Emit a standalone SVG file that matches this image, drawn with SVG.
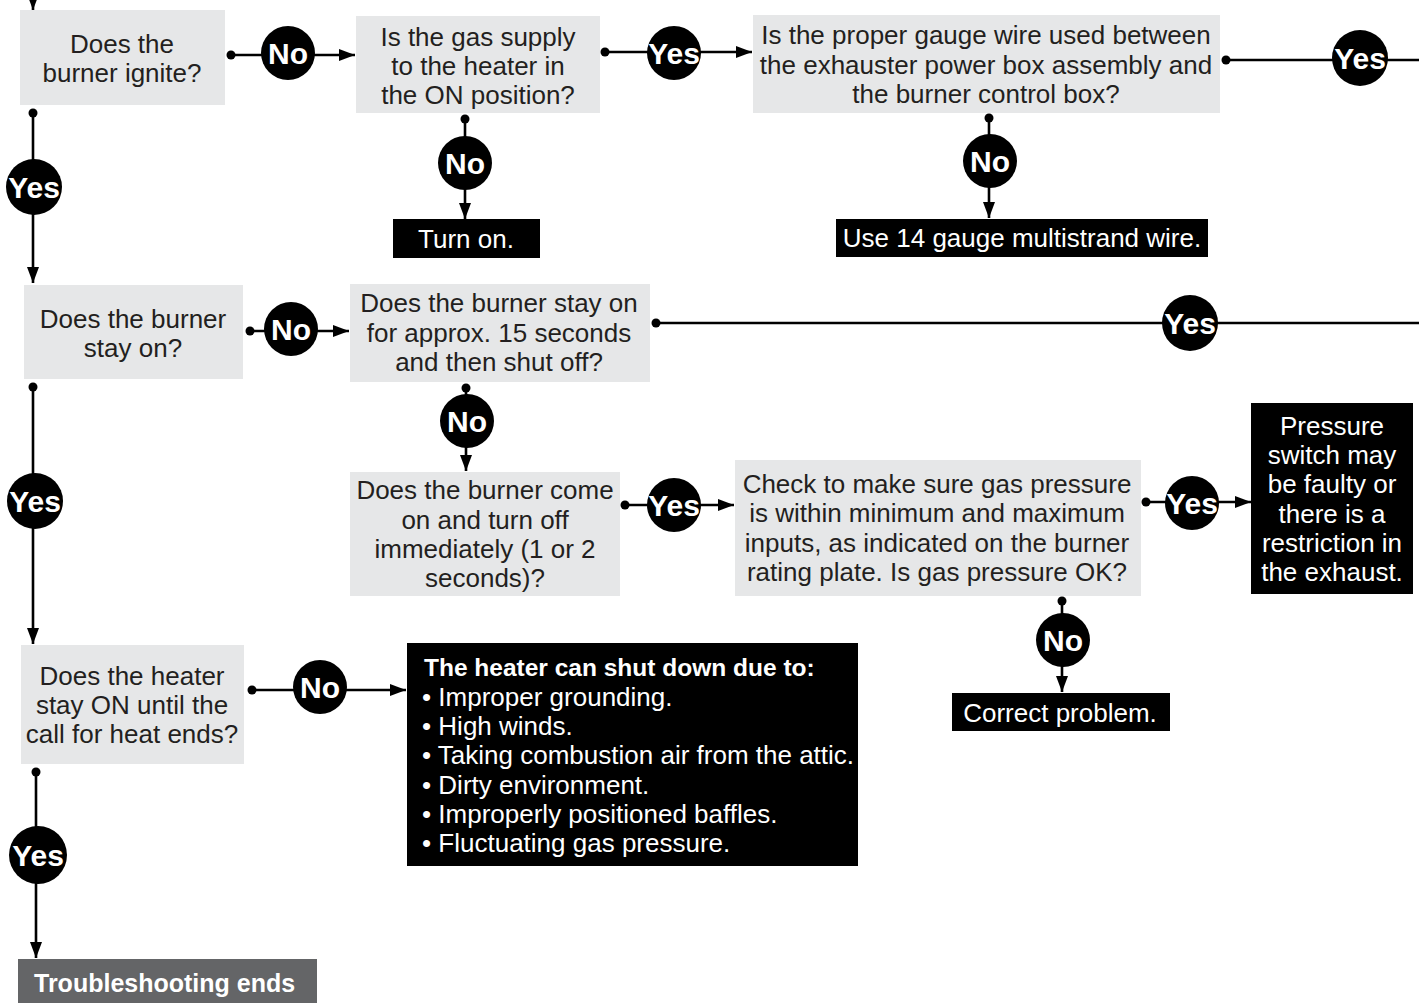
<svg xmlns="http://www.w3.org/2000/svg" width="1419" height="1003" viewBox="0 0 1419 1003">
<style>
.q{fill:#e6e7e8}
.k{fill:#000}
.t{font-family:"Liberation Sans",Arial,sans-serif;font-size:26px;fill:#231f20;text-anchor:middle}
.w{font-family:"Liberation Sans",Arial,sans-serif;font-size:26px;fill:#fff;text-anchor:middle}
.wl{font-family:"Liberation Sans",Arial,sans-serif;font-size:26px;fill:#fff}
.wb{font-family:"Liberation Sans",Arial,sans-serif;font-size:24.5px;font-weight:bold;fill:#fff}
.ln{stroke:#000;stroke-width:2.6;fill:none}
.ar{stroke:#000;stroke-width:2.6;fill:none;marker-end:url(#ah)}
.dot{fill:#000}
.c{fill:#000}
.cl{font-family:"Liberation Sans",Arial,sans-serif;font-size:30px;font-weight:bold;fill:#fff;text-anchor:middle}
</style>
<defs>
<marker id="ah" markerUnits="userSpaceOnUse" markerWidth="18" markerHeight="14" refX="16" refY="7" orient="auto">
<path d="M0,1 L16,7 L0,13 Z" fill="#000"/>
</marker>
</defs>
<rect width="1419" height="1003" fill="#fff"/>

<g id="connectors">
<line class="ar" x1="33" y1="-10" x2="33" y2="10"/>
<circle class="dot" cx="231" cy="55" r="4.5"/><line class="ar" x1="231" y1="55" x2="355" y2="55"/>
<circle class="dot" cx="605" cy="52" r="4.5"/><line class="ar" x1="605" y1="52" x2="752" y2="52"/>
<circle class="dot" cx="1226" cy="60" r="4.5"/><line class="ln" x1="1226" y1="60" x2="1419" y2="60"/>
<circle class="dot" cx="465" cy="119" r="4.5"/><line class="ar" x1="465" y1="119" x2="465" y2="219"/>
<circle class="dot" cx="989" cy="118" r="4.5"/><line class="ar" x1="989" y1="118" x2="989" y2="218"/>
<circle class="dot" cx="33" cy="113" r="4.5"/><line class="ar" x1="33" y1="113" x2="33" y2="283"/>
<circle class="dot" cx="250" cy="331" r="4.5"/><line class="ar" x1="250" y1="331" x2="349" y2="331"/>
<circle class="dot" cx="656" cy="323" r="4.5"/><line class="ln" x1="656" y1="323" x2="1419" y2="323"/>
<circle class="dot" cx="466" cy="388" r="4.5"/><line class="ar" x1="466" y1="388" x2="466" y2="471"/>
<circle class="dot" cx="625" cy="505" r="4.5"/><line class="ar" x1="625" y1="505" x2="734" y2="505"/>
<circle class="dot" cx="1146" cy="502" r="4.5"/><line class="ar" x1="1146" y1="502" x2="1251" y2="502"/>
<circle class="dot" cx="1062" cy="601" r="4.5"/><line class="ar" x1="1062" y1="601" x2="1062" y2="692"/>
<circle class="dot" cx="33" cy="387" r="4.5"/><line class="ar" x1="33" y1="387" x2="33" y2="644"/>
<circle class="dot" cx="252" cy="690" r="4.5"/><line class="ar" x1="252" y1="690" x2="406" y2="690"/>
<circle class="dot" cx="36" cy="772" r="4.5"/><line class="ar" x1="36" y1="772" x2="36" y2="958"/>

<g id="lbl-no1"><circle class="c" cx="288" cy="53" r="27"/><text class="cl" x="288" y="64">No</text></g>
<g id="lbl-yes1"><circle class="c" cx="674" cy="53" r="27"/><text class="cl" x="674" y="64">Yes</text></g>
<g id="lbl-yes2"><circle class="c" cx="1360" cy="58" r="28"/><text class="cl" x="1360" y="69">Yes</text></g>
<g id="lbl-no2"><circle class="c" cx="465" cy="163" r="27"/><text class="cl" x="465" y="174">No</text></g>
<g id="lbl-no3"><circle class="c" cx="990" cy="161" r="27"/><text class="cl" x="990" y="172">No</text></g>
<g id="lbl-yes3"><circle class="c" cx="34" cy="187" r="28"/><text class="cl" x="34" y="198">Yes</text></g>
<g id="lbl-no4"><circle class="c" cx="291" cy="329" r="27"/><text class="cl" x="291" y="340">No</text></g>
<g id="lbl-yes4"><circle class="c" cx="1190" cy="323" r="28"/><text class="cl" x="1190" y="334">Yes</text></g>
<g id="lbl-no5"><circle class="c" cx="467" cy="421" r="27"/><text class="cl" x="467" y="432">No</text></g>
<g id="lbl-yes5"><circle class="c" cx="674" cy="505" r="27"/><text class="cl" x="674" y="516">Yes</text></g>
<g id="lbl-yes6"><circle class="c" cx="1192" cy="503" r="27"/><text class="cl" x="1192" y="514">Yes</text></g>
<g id="lbl-no6"><circle class="c" cx="1063" cy="640" r="27"/><text class="cl" x="1063" y="651">No</text></g>
<g id="lbl-yes7"><circle class="c" cx="35" cy="501" r="28"/><text class="cl" x="35" y="512">Yes</text></g>
<g id="lbl-no7"><circle class="c" cx="320" cy="687" r="27"/><text class="cl" x="320" y="698">No</text></g>
<g id="lbl-yes8"><circle class="c" cx="38" cy="855" r="29"/><text class="cl" x="38" y="866">Yes</text></g>
</g>

<g id="n-ignite"><rect class="q" x="20" y="10" width="205" height="95"/>
<text class="t" x="122" y="53">Does the</text><text class="t" x="122" y="82">burner ignite?</text></g>

<g id="n-gas"><rect class="q" x="356" y="16" width="244" height="97"/>
<text class="t" x="478" y="46">Is the gas supply</text><text class="t" x="478" y="75">to the heater in</text><text class="t" x="478" y="104">the ON position?</text></g>

<g id="n-wire"><rect class="q" x="753" y="15" width="467" height="98"/>
<text class="t" x="986" y="44">Is the proper gauge wire used between</text><text class="t" x="986" y="74">the exhauster power box assembly and</text><text class="t" x="986" y="103">the burner control box?</text></g>

<g id="n-turnon"><rect class="k" x="393" y="219" width="147" height="39"/>
<text class="w" x="466" y="248">Turn on.</text></g>

<g id="n-use14"><rect class="k" x="836" y="219" width="372" height="38"/>
<text class="w" x="1022" y="247">Use 14 gauge multistrand wire.</text></g>

<g id="n-stayon"><rect class="q" x="24" y="285" width="219" height="94"/>
<text class="t" x="133" y="328">Does the burner</text><text class="t" x="133" y="357">stay on?</text></g>

<g id="n-15sec"><rect class="q" x="350" y="284" width="300" height="98"/>
<text class="t" x="499" y="312">Does the burner stay on</text><text class="t" x="499" y="342">for approx. 15 seconds</text><text class="t" x="499" y="371">and then shut off?</text></g>

<g id="n-immed"><rect class="q" x="350" y="472" width="270" height="124"/>
<text class="t" x="485" y="499">Does the burner come</text><text class="t" x="485" y="529">on and turn off</text><text class="t" x="485" y="558">immediately (1 or 2</text><text class="t" x="485" y="587">seconds)?</text></g>

<g id="n-pressure"><rect class="q" x="735" y="460" width="406" height="136"/>
<text class="t" x="937" y="493">Check to make sure gas pressure</text><text class="t" x="937" y="522">is within minimum and maximum</text><text class="t" x="937" y="552">inputs, as indicated on the burner</text><text class="t" x="937" y="581">rating plate. Is gas pressure OK?</text></g>

<g id="n-switch"><rect class="k" x="1251" y="403" width="162" height="191"/>
<text class="w" x="1332" y="435">Pressure</text><text class="w" x="1332" y="464">switch may</text><text class="w" x="1332" y="493">be faulty or</text><text class="w" x="1332" y="523">there is a</text><text class="w" x="1332" y="552">restriction in</text><text class="w" x="1332" y="581">the exhaust.</text></g>

<g id="n-correct"><rect class="k" x="952" y="693" width="218" height="38"/>
<text class="w" x="1060" y="722">Correct problem.</text></g>

<g id="n-heater"><rect class="q" x="21" y="645" width="223" height="119"/>
<text class="t" x="132" y="685">Does the heater</text><text class="t" x="132" y="714">stay ON until the</text><text class="t" x="132" y="743">call for heat ends?</text></g>

<g id="n-shutdown"><rect class="k" x="407" y="643" width="451" height="223"/>
<text class="wb" x="424" y="676">The heater can shut down due to:</text>
<text class="wl" x="422" y="706">• Improper grounding.</text>
<text class="wl" x="422" y="735">• High winds.</text>
<text class="wl" x="422" y="764">• Taking combustion air from the attic.</text>
<text class="wl" x="422" y="794">• Dirty environment.</text>
<text class="wl" x="422" y="823">• Improperly positioned baffles.</text>
<text class="wl" x="422" y="852">• Fluctuating gas pressure.</text></g>

<g id="n-end"><rect x="18" y="959" width="299" height="44" fill="#646567"/>
<text class="wb" x="34" y="992" style="font-size:25px">Troubleshooting ends</text></g>
</svg>
